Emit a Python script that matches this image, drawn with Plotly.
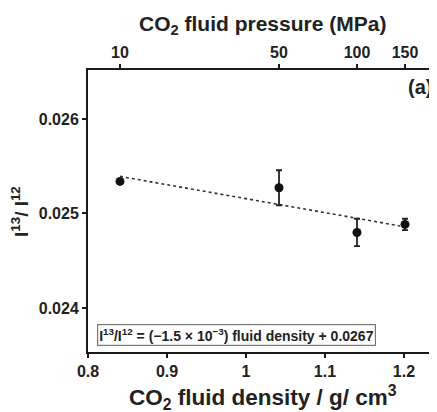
import numpy as np
import plotly.graph_objects as go

# Data
density = [0.8405, 1.0418, 1.1405, 1.2013]          # g/cm3
pressure_labels = ["10", "50", "100", "150"]         # MPa (top axis)
ratio = [0.025339, 0.025272, 0.024799, 0.024884]     # I13/I12
ratio_err = [0.0, 0.000185, 0.000145, 0.00006]

x_ticks = [0.8, 0.9, 1.0, 1.1, 1.2]
x_ticktext = ["0.8", "0.9", "1", "1.1", "1.2"]
y_ticks = [0.024, 0.025, 0.026]
y_ticktext = ["0.024", "0.025", "0.026"]

slope, intercept = np.polyfit(density, ratio, 1)
fit_x = np.array([min(density), 1.195])
fit_y = slope * fit_x + intercept

FONT = "Liberation Sans, Arial, sans-serif"
TXT = "#222222"

fig = go.Figure()
fig.add_trace(go.Scatter(
    x=fit_x, y=fit_y, mode="lines",
    line=dict(color="#333333", width=1.6, dash="dot"),
    showlegend=False, hoverinfo="skip"))
fig.add_trace(go.Scatter(
    x=density, y=ratio, mode="markers",
    marker=dict(color="#111111", size=9),
    error_y=dict(type="data", array=ratio_err, visible=True,
                 color="#222222", thickness=1.8, width=3),
    showlegend=False))
# invisible trace for top axis
fig.add_trace(go.Scatter(x=density, y=ratio, xaxis="x2", mode="markers",
                         marker=dict(opacity=0), showlegend=False, hoverinfo="skip"))

xr = [0.8, 1.2418]
yr = [0.023534, 0.026518]

common = dict(showline=True, linecolor="#1a1a1a", linewidth=2,
              ticks="outside", ticklen=4, tickwidth=1.5, tickcolor="#1a1a1a",
              showgrid=False, zeroline=False, automargin=False,
              tickfont=dict(size=16, family=FONT, weight="bold", color=TXT))

# page body has an 8px margin, so the figure is sized to fit the window
fig.update_layout(
    width=429, height=404,
    margin=dict(l=80, r=0, t=62, b=60),
    paper_bgcolor="white", plot_bgcolor="white",
    font=dict(family=FONT, color=TXT),
    xaxis=dict(range=xr, tickvals=x_ticks, ticktext=x_ticktext, **common),
    xaxis2=dict(range=xr, overlaying="x", side="top", anchor="y",
                tickvals=density, ticktext=pressure_labels, **common),
    yaxis=dict(range=yr, tickvals=y_ticks, ticktext=y_ticktext, **common),
)

# axis titles as annotations for exact placement
fig.add_annotation(xref="paper", yref="paper", x=0.5, y=-0.162, yanchor="middle",
                   xanchor="center", showarrow=False,
                   text="CO<sub>2</sub> fluid density / g/ cm<sup>3</sup>",
                   font=dict(size=22.5, family=FONT, weight="bold", color=TXT))
fig.add_annotation(xref="paper", yref="paper", x=0.5, y=1.16, yanchor="middle",
                   xanchor="center", showarrow=False,
                   text="CO<sub>2</sub> fluid pressure (MPa)",
                   font=dict(size=21, family=FONT, weight="bold", color=TXT))
fig.add_annotation(xref="paper", yref="paper", x=-0.195, y=0.50, yanchor="middle",
                   xanchor="center", showarrow=False, textangle=-90,
                   text="I<sup>13</sup>/ I<sup>12</sup>",
                   font=dict(size=19, family=FONT, weight="bold", color=TXT))

fig.add_annotation(
    xref="paper", yref="paper", x=0.992, y=0.94, xanchor="right", yanchor="middle",
    text="(a)", showarrow=False,
    font=dict(size=20, family=FONT, weight="bold", color=TXT))

fig.add_annotation(
    xref="x", yref="y", x=0.811, y=0.023714, xanchor="left", yanchor="middle",
    text="I<sup>13</sup>/I<sup>12</sup> = (\u22121.5 \u00d7 10<sup>\u22123</sup>) fluid density + 0.0267",
    showarrow=False, bordercolor="#777777", borderwidth=1.2, borderpad=1,
    bgcolor="white",
    font=dict(size=14, family=FONT, weight="bold", color=TXT))

fig.write_html("out.html")
